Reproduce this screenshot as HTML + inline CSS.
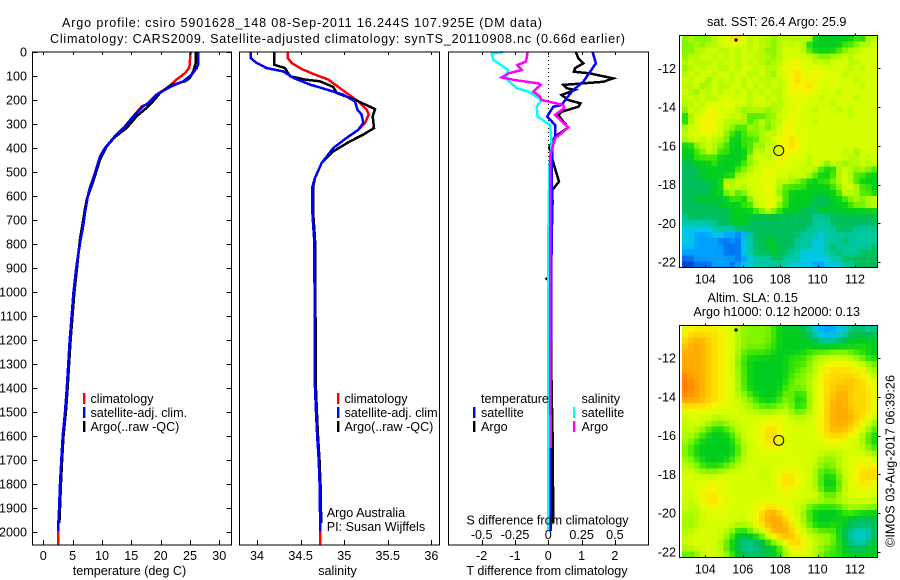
<!DOCTYPE html>
<html lang="en">
<head>
<meta charset="utf-8">
<title>Argo profile csiro 5901628_148</title>
<style>
html,body{margin:0;padding:0;background:#fff;}
svg{display:block;}
text{font-family:"Liberation Sans",sans-serif;font-size:12.6px;fill:#000;}
</style>
</head>
<body>
<svg id="chart" xmlns="http://www.w3.org/2000/svg" width="900" height="580" viewBox="0 0 900 580">
<rect x="0" y="0" width="900" height="580" fill="#fff"/>
<text x="62" y="27" textLength="480">Argo profile: csiro 5901628_148 08-Sep-2011 16.244S 107.925E (DM data)</text>
<text x="50" y="43" textLength="575">Climatology: CARS2009. Satellite-adjusted climatology: synTS_20110908.nc (0.66d earlier)</text>
<g id="maps"></g>
<g id="profiles"></g>
<g id="axes"></g>

<text x="129.5" y="575" text-anchor="middle">temperature (deg C)</text>
<text x="337.5" y="575" text-anchor="middle">salinity</text>
<text x="547" y="575" text-anchor="middle">T difference from climatology</text>
<text x="547.5" y="524.5" text-anchor="middle">S difference from climatology</text>

<g>
<rect x="83" y="393" width="2.4" height="11" fill="#ff0000"/>
<rect x="83" y="407" width="2.4" height="11" fill="#0000ff"/>
<rect x="83" y="421" width="2.4" height="11" fill="#000000"/>
<text x="90.5" y="403">climatology</text>
<text x="90.5" y="417">satellite-adj. clim.</text>
<text x="90.5" y="431">Argo(..raw -QC)</text>
</g>
<g>
<rect x="337" y="393" width="2.4" height="11" fill="#ff0000"/>
<rect x="337" y="407" width="2.4" height="11" fill="#0000ff"/>
<rect x="337" y="421" width="2.4" height="11" fill="#000000"/>
<text x="344.5" y="403">climatology</text>
<text x="344.5" y="417">satellite-adj. clim.</text>
<text x="344.5" y="431">Argo(..raw -QC)</text>
<text x="326.7" y="517">Argo Australia</text>
<text x="326.7" y="531">PI: Susan Wijffels</text>
</g>
<g>
<text x="481" y="403">temperature</text>
<rect x="473" y="407" width="2.4" height="11" fill="#0000ff"/>
<rect x="473" y="421" width="2.4" height="11" fill="#000000"/>
<text x="481" y="417">satellite</text>
<text x="481" y="431">Argo</text>
<text x="581.5" y="403">salinity</text>
<rect x="573" y="407" width="2.4" height="11" fill="#00ffff"/>
<rect x="573" y="421" width="2.4" height="11" fill="#ff00ff"/>
<text x="581.5" y="417">satellite</text>
<text x="581.5" y="431">Argo</text>
</g>

<text x="776.7" y="26" text-anchor="middle">sat. SST: 26.4  Argo: 25.9</text>
<text x="752.7" y="302" text-anchor="middle">Altim. SLA: 0.15</text>
<text x="776.7" y="316" text-anchor="middle">Argo h1000: 0.12 h2000: 0.13</text>
<text transform="translate(894.5,547) rotate(-90)" textLength="172">©IMOS 03-Aug-2017 06:39:26</text>
</svg>

<script>
/* ---------- depth axis ---------- */
const depthTicks = [0,100,200,300,400,500,600,700,800,900,1000,1100,1200,1300,1400,1500,1600,1700,1800,1900,2000];

/* ---------- temperature panel ---------- */
const tempTicks = [0,5,10,15,20,25,30];
const tempClimDepth = [0,65,88,115,146,178,219,226,268,310,351,392,428,490,560,650,740,780,900,1000,1200,1400,1500,1600,1700,1800,1900,2000,2053];
const tempClim = [25.1,24.9,24.15,22.7,21.3,19.3,17.6,16.8,15.3,13.9,12.2,10.8,9.95,9.1,8.0,7.1,6.6,6.3,5.6,5.15,4.5,4.0,3.7,3.3,3.07,2.85,2.7,2.5,2.5];
const tempSatDepth = [0,50,67,94,122,146,178,213,226,268,310,351,400,435,504,588,671,740,780,900,1000,1200,1400,1500,1600,1700,1800,1900,1995];
const tempSat = [26.43,26.43,26.14,25.3,23.87,21.6,19.3,17.9,17.05,15.35,13.93,12.2,10.5,9.66,8.8,7.67,7.1,6.7,6.37,5.6,5.15,4.5,4.0,3.7,3.3,3.07,2.85,2.7,2.5];
const tempArgoDepth = [0,46,81,108,122,140,171,212,233,268,317,354,393,449,539,615,699,779,900,1000,1200,1400,1500,1600,1700,1800,1900,1962];
const tempArgo = [25.97,25.97,25.57,25,24.15,21.6,19.9,18.47,17.6,15.9,14.2,12.2,10.8,9.66,8.5,7.4,6.8,6.25,5.75,5.3,4.65,4.15,3.85,3.45,3.2,3.0,2.85,2.75];

/* ---------- salinity panel ---------- */
const salTicks = [34,34.5,35,35.5,36];
const salClimDepth = [0,25,46,71,94,115,171,206,240,261,296,324,358,400,462,525,560,671,779,1000,1200,1400,1500,1600,1700,1800,2000,2053];
const salClim = [34.352,34.352,34.398,34.512,34.665,34.818,35.028,35.162,35.258,35.281,35.239,35.162,35.028,34.875,34.742,34.665,34.638,34.638,34.655,34.66,34.662,34.665,34.677,34.69,34.707,34.718,34.726,34.726];
const salSatDepth = [0,25,46,67,81,108,136,150,178,206,240,261,296,324,358,400,462,525,560,671,779,1000,1200,1400,1500,1600,1700,1800,1995];
const salSat = [33.927,33.927,33.996,34.111,34.302,34.417,34.608,34.742,34.99,35.124,35.151,35.2,35.219,35.162,35.028,34.875,34.742,34.665,34.635,34.635,34.655,34.66,34.662,34.665,34.677,34.69,34.707,34.718,34.726];
const salArgoDepth = [0,53,67,101,115,122,146,171,199,238,268,317,344,372,414,462,525,560,671,779,1000,1200,1400,1500,1600,1700,1800,1962];
const salArgo = [34.195,34.195,34.321,34.378,34.55,34.722,34.875,34.914,35.124,35.353,35.327,35.342,35.219,35.067,34.875,34.742,34.665,34.645,34.645,34.665,34.67,34.672,34.675,34.687,34.70,34.717,34.728,34.736];

/* ---------- difference panel ---------- */
const diffTTicks = [-2,-1,0,1,2];
const diffSTicks = [-0.5,-0.25,0,0.25,0.5];
const diffSTickLabels = ['-0.5','-0.25','0','0.25','0.5'];
const diffTArgoDepth = [0,26,47,68,82,89,110,124,137,151,158,179,200,214,228,249,262,290,314,353,397,436,485,540,582,624,700,930,945,960,1200,1400,1600,1962];
const diffTArgo = [0.83,0.9,1.05,0.8,0.77,1.25,1.95,1.65,0.45,0.55,0.8,0.4,0.6,0.97,0.9,0.4,0.3,0.45,0.6,0.2,0.03,0.1,0.2,0.32,0.08,0.13,0.1,0.08,-0.05,0.08,0.08,0.1,0.13,0.15];
const diffTSatDepth = [0,47,124,158,193,221,228,249,269,304,353,394,478,533,624,783,1200,1995];
const diffTSat = [1.33,1.43,1.05,0.75,0.55,0.4,0.15,0.05,-0.03,0.2,0.2,0.13,0.1,0.1,0.13,0.1,0.08,0.07];
const diffSSatDepth = [0,8,33,75,110,151,165,200,228,269,304,381,485,783,1995];
const diffSSat = [-0.3375,-0.425,-0.4125,-0.3,-0.32,-0.2375,-0.15,-0.05,-0.0875,-0.08,0.0125,0.025,0.0075,0,0];
const diffSArgoDepth = [0,40,54,75,89,106,117,131,137,165,186,200,221,235,262,314,360,436,783,1650];
const diffSArgo = [-0.155,-0.1675,-0.2325,-0.2,-0.3,-0.35,-0.25,-0.075,-0.0575,-0.1125,-0.0625,-0.05,0.1125,0.1175,0.05,0.15,0.05,0.0125,0.0125,0.0175];

/* ---------- maps ---------- */
const lonTicks = [104,106,108,110,112];
const latTicks = [-12,-14,-16,-18,-20,-22];
const argoLon = 107.925;
const argoLat = -16.244;
const speckLon = 105.65;
const speckLat = -10.55;
/* heat levels: 0 coldest/lowest ... e warmest/highest (hex digit) */
const sstGrid = [
"898889aacc a9a9989999 9a66666667 699",
"889899aaaa a9a9989a9a 9666666778 99a",
"8899aa99a9 a9a9889aaa 9766667899 aaa",
"899aa9a9a9 aa99989aaa aa98899a9a aaa",
"9a999a9aa9 a9a9899abb aa9a9aaa99 aaa",
"89a9aa99a9 aa9a99abbb aabaaaaa9a 9aa",
"9a9aa9aa9a a99a98aabc babbaaa9aa aaa",
"a9aa8a9a9a 9aa99a9abc bbbaabaaa9 aaa",
"99a89a99aa 9a9a9a9abb bcbaaaaaaa 9aa",
"a98a9a9aa9 a9a9a99abb bbaaaa9aaa aaa",
"9a9a99aaaa a9aa9a9aab aaa9aaaaa9 aaa",
"99a9aaabaa a9aaa99aab aaaaa9aaaa aaa",
"8a9abbaaa9 8999899aab aa9aaa9a9a aaa",
"69aabbaa9a 977788aaba aaaaaaaa9a aaa",
"69abbba999 978a899aba aa9aaaaaaa aaa",
"9aabbba987 798979abba aaaaaaaaaa aaa",
"9aabbaa876 7889a9abba aaaaaaaaaa aaa",
"9aa9a99866 77799abbcb aaaaaaaaaa aaa",
"6689a98766 7798a9bbcb aaaaaaaaaa aaa",
"6678a97766 67a9aaabbb aaaaaaa9a8 aaa",
"6677776666 69aa9abbaa a9aaaaaa99 a9a",
"5566676666 789aaabaaa a9aa8a9899 a9a",
"5556666667 89aabaaaaa 9a97669a98 987",
"5556666669 9aaabaaa9a a976679a97 766",
"5555656a9a aaabaa9a98 7667789a97 666",
"5555566a9a 9aaaba9777 7666678aa9 776",
"5555566897 8aaaba8766 6666667a99 776",
"5566665677 68aabaa766 6655566789 89a",
"5555556666 77aabb8766 6655566678 89a",
"5555555566 6678a87666 5556666666 666",
"4555555566 6655555555 5544455555 555",
"4444445566 6555555555 5544455555 555",
"3333344445 5555555555 5444445554 444",
"3322233221 2455555555 4443444444 444",
"3322221121 3455665554 4433444544 444",
"3322222111 3455665554 4433454444 445",
"2222222111 3455565544 3333445444 555",
"1122222221 2344455444 3333344555 555",
"0011122212 3344444433 3322333445 555"
];
const slaGrid = [
"abbbbbbaa9 8888876666 5432223345 444",
"bcccccbba9 8888876666 6543223456 555",
"cdddccbba9 8888876666 6654445566 666",
"cdddccbba9 8888776666 6666666666 766",
"ddddccbba9 7777766666 6777788887 766",
"ddddccbba8 7666666677 789aaaaa98 766",
"ddddccbba8 7666666677 789abbbbbb a98",
"ddddccbba8 7666666677 889abcccbb b98",
"edddccbba9 7666666678 89abcccccc ca9",
"eeddccbba9 7666666688 89abccccdc cba",
"eeddccbba9 7666666788 89abccddcc cca",
"eeddccbba9 8766666886 69abccddcc cca",
"ddddccbbaa 9876667886 69abcdddcc cca",
"ccccbbbaaa 9987778986 69abcdddcc cca",
"aaaaaaaaaa a999999a87 89abcddddc cca",
"aaaaaa9aaa aaaaaabaa9 9aabcddddc cb9",
"9aaa987999 aaabbbbaaa aaabcddddc ba8",
"9a98766789 aaabccbaaa aaabcddccb a97",
"9987666679 aaabccbaaa aaabccccba 976",
"9876666668 9aabccbaaa aaaabbbbaa 976",
"8766666667 9aaabbbaaa aaaaaaaaaa 987",
"8766666667 9aaaaaaaaa aaa9999aaa a98",
"9876666678 9aaaaaaaaa aaa9889aaa bba",
"9987666789 aaaaaaaaaa aa98889aab bbb",
"aa98889aaa aaaa9aabbb aa97779aab ccc",
"aaaaaaaaaa aaa9aabccb aa97667aab ccc",
"aaaaabbaaa aaaa9abccb aa97667aab cca",
"aaabbbaaaa aaaaaabbba aa97667aaa bba",
"a9abbcbaaa aaaaaaabaa aaa9778aaa aaa",
"a9abccbaaa aaaaaaaaaa aaaa9aaaaa aaa",
"a99abbbaaa aaabccbaaa 9766666899 988",
"999aaaaaaa aabcdddbaa 8766666776 666",
"989aaaaaaa aabddddcba 9766666665 555",
"989aaaaaa9 9aabddddca 9766667655 555",
"99aaaaa986 68abcdddcb a987786544 345",
"9aaaaaa976 5566bcdddb aa99986543 335",
"aaaaaa9765 4455679bcd caa9987644 356",
"9aaaaa9765 4445566 9bc aa98776655 566",
"777aaaa976 5555666 9aa aa98777666 666"
];

/* ---------- palette (style only) ---------- */
const heatPalette = ['#0040c8','#006ef0','#00a0ff','#00c8e6','#00c8a0','#00be5a','#00cd1e','#3ce600','#82f500','#b4fa00','#d7ff00','#f5f500','#ffd700','#ffaa00','#ff8200'];

/* ---------- layout + axis functions ---------- */
const NS = 'http://www.w3.org/2000/svg';
const panelTop = 52, panelBottom = 545;
const yDepth = d => 52 + d * 0.24;
const xTemp = v => 43.3 + v * 5.867;
const xSal = v => 257 + (v - 34) * 87.2;
const xDiffT = v => 548.3 + v * 33.3;
const xDiffS = v => 548.3 + v * 133.2;
const xLon = v => 705.3 + (v - 104) * 18.71;
const ySstLat = v => 68.3 + (-12 - v) * 19.37;
const ySlaLat = v => 358 + (-12 - v) * 19.4;

function make(parent, tag, attrs, name) {
  const el = document.createElementNS(NS, tag);
  for (const k in attrs) el.setAttribute(k, attrs[k]);
  
  
  parent.appendChild(el);
  return el;
}
function label(parent, x, y, txt, anchor, name) {
  const t = make(parent, 'text', {x: x, y: y, 'text-anchor': anchor}, name);
  t.textContent = txt;
  return t;
}
function drawLine(parent, depths, vals, xf, color, name) {
  const pts = vals.map((v, i) => xf(v).toFixed(1) + ',' + yDepth(depths[i]).toFixed(1)).join(' ');
  make(parent, 'polyline', {points: pts, fill: 'none', stroke: color, 'stroke-width': 2.5, 'shape-rendering': 'crispEdges'}, name);
}
function box(parent, x0, y0, x1, y1, name) {
  make(parent, 'rect', {x: x0, y: y0, width: x1 - x0, height: y1 - y0, fill: 'none', stroke: '#000', 'stroke-width': 1, 'shape-rendering': 'crispEdges'}, name);
}
function seg(parent, x0, y0, x1, y1, name) {
  make(parent, 'line', {x1: x0, y1: y0, x2: x1, y2: y1, stroke: '#000', 'stroke-width': 1, 'shape-rendering': 'crispEdges'}, name);
}

const axes = document.getElementById('axes');
const profiles = document.getElementById('profiles');
const maps = document.getElementById('maps');

/* profile series */
drawLine(profiles, tempClimDepth, tempClim, xTemp, '#ff0000', 'temperature-climatology-line');
drawLine(profiles, tempArgoDepth, tempArgo, xTemp, '#000000', 'temperature-argo-line');
drawLine(profiles, tempSatDepth, tempSat, xTemp, '#0000ff', 'temperature-satellite-line');
drawLine(profiles, salClimDepth, salClim, xSal, '#ff0000', 'salinity-climatology-line');
drawLine(profiles, salArgoDepth, salArgo, xSal, '#000000', 'salinity-argo-line');
drawLine(profiles, salSatDepth, salSat, xSal, '#0000ff', 'salinity-satellite-line');
make(profiles, 'line', {x1: xDiffT(0), y1: yDepth(0), x2: xDiffT(0), y2: yDepth(2000), stroke: '#000', 'stroke-width': 1, 'stroke-dasharray': '1 3', 'shape-rendering': 'crispEdges'}, 'zero-difference-line');
drawLine(profiles, diffTArgoDepth, diffTArgo, xDiffT, '#000000', 't-difference-argo-line');
drawLine(profiles, diffTSatDepth, diffTSat, xDiffT, '#0000ff', 't-difference-satellite-line');
drawLine(profiles, diffSSatDepth, diffSSat, xDiffS, '#00ffff', 's-difference-satellite-line');
drawLine(profiles, diffSArgoDepth, diffSArgo, xDiffS, '#ff00ff', 's-difference-argo-line');

/* panel frames */
box(axes, 32.5, panelTop, 231.5, panelBottom, 'temperature-panel-frame');
box(axes, 239.5, panelTop, 439.5, panelBottom, 'salinity-panel-frame');
box(axes, 448.5, panelTop, 648.5, panelBottom, 'difference-panel-frame');

/* depth ticks and labels */
depthTicks.forEach(d => {
  const y = Math.round(yDepth(d)) + 0.5;
  seg(axes, 32.5, y, 37.5, y, 'depth-tick-left');
  seg(axes, 226.5, y, 231.5, y, 'depth-tick-right');
  label(axes, 27, yDepth(d) + 4.5, String(d), 'end', 'depth-tick-label');
});

/* x ticks */
function xTicks(values, xf, labels, name) {
  values.forEach((v, i) => {
    const x = Math.round(xf(v)) + 0.5;
    seg(axes, x, panelBottom, x, panelBottom - 5, name + '-tick-bottom');
    seg(axes, x, panelTop, x, panelTop + 3, name + '-tick-top');
    label(axes, xf(v), 560, labels[i], 'middle', name + '-tick-label');
  });
}
xTicks(tempTicks, xTemp, tempTicks.map(String), 'temperature');
xTicks(salTicks, xSal, salTicks.map(String), 'salinity');
xTicks(diffTTicks, xDiffT, diffTTicks.map(String), 't-difference');
diffSTicks.forEach((v, i) => {
  label(axes, xDiffS(v), 539, diffSTickLabels[i], 'middle', 's-difference-tick-label');
});

/* heat maps */
const paletteRgb = heatPalette.map(h => [1, 3, 5].map(i => parseInt(h.substr(i, 2), 16)));
function levelColor(level) {
  const lo = Math.max(0, Math.min(heatPalette.length - 1, Math.floor(level)));
  const hi = Math.min(heatPalette.length - 1, lo + 1);
  const f = level - lo;
  const rgb = paletteRgb[lo].map((c, i) => Math.round(c + (paletteRgb[hi][i] - c) * f));
  return 'rgb(' + rgb.join(',') + ')';
}
function parseGrid(grid) {
  return grid.map(r => {
    const s = r.replace(/ /g, '');
    const out = [];
    for (let c = 0; c < 33; c++) out.push(parseInt(s.charAt(c) || s.charAt(s.length - 1), 16));
    return out;
  });
}
/* soften the hand-read levels between neighbours; amount 1 = fully softened, 0 = as read */
function soften(levels, amount) {
  const nR = levels.length, nC = levels[0].length;
  const at = (r, c) => levels[Math.max(0, Math.min(nR - 1, r))][Math.max(0, Math.min(nC - 1, c))];
  return levels.map((row, r) => row.map((v, c) => {
    let sum = 0;
    for (let dr = -1; dr <= 1; dr++) for (let dc = -1; dc <= 1; dc++) {
      sum += at(r + dr, c + dc) * (2 - Math.abs(dr)) * (2 - Math.abs(dc));
    }
    return v + (sum / 16 - v) * amount;
  }));
}
function drawMap(levels, yf, top, bottom, labelY, name) {
  const lonStart = 102.75, lonEnd = 113.2;
  const x0 = xLon(lonStart), x1 = xLon(lonEnd);
  const nRows = levels.length;
  const cw = (x1 - x0) / 33, ch = (bottom - top) / nRows;
  levels.forEach((row, r) => {
    row.forEach((level, c) => {
      make(maps, 'rect', {
        x: (x0 + c * cw).toFixed(2), y: (top + r * ch).toFixed(2),
        width: (cw + 0.5).toFixed(2), height: (ch + 0.5).toFixed(2),
        fill: levelColor(level), 'shape-rendering': 'crispEdges'
      }, name + '-cell');
    });
  });
  box(axes, 679.5, top, 877.5, bottom, name + '-frame');
  lonTicks.forEach(v => {
    const x = Math.round(xLon(v)) + 0.5;
    seg(axes, x, top - 2, x, top, name + '-lon-tick-top');
    seg(axes, x, bottom - 2, x, bottom, name + '-lon-tick-bottom');
    label(axes, xLon(v), labelY, String(v), 'middle', name + '-lon-label');
  });
  latTicks.forEach(v => {
    const y = Math.round(yf(v)) + 0.5;
    seg(axes, 877.5, y, 880.5, y, name + '-lat-tick-right');
    label(axes, 676, yf(v) + 4.5, String(v), 'end', name + '-lat-label');
  });
  make(axes, 'rect', {x: xLon(speckLon) - 1.5, y: yf(speckLat) - 1.5, width: 3, height: 3, fill: '#000', 'shape-rendering': 'crispEdges'}, name + '-land-speck');
  make(axes, 'circle', {cx: xLon(argoLon), cy: yf(argoLat), r: 5, fill: 'none', stroke: '#000', 'stroke-width': 1}, name + '-argo-location');
}
drawMap(soften(parseGrid(sstGrid), 0.5), ySstLat, 35.5, 267.5, 283.5, 'sst-map');
drawMap(soften(parseGrid(slaGrid), 1), ySlaLat, 325.5, 557.5, 573.5, 'sla-map');
</script>
</body>
</html>
